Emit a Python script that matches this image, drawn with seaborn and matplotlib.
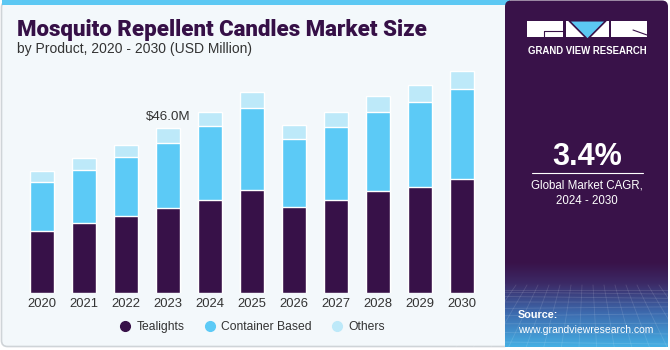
import numpy as np
import pandas as pd
import matplotlib
matplotlib.use("Agg")
import matplotlib.pyplot as plt
from matplotlib.patches import FancyBboxPatch, Rectangle, Polygon
from matplotlib.lines import Line2D
from matplotlib.colors import LinearSegmentedColormap
import seaborn as sns

# ---- data ----
years = ["2020", "2021", "2022", "2023", "2024", "2025", "2026", "2027", "2028", "2029", "2030"]
tealights = [17.4, 19.5, 21.6, 23.8, 26.0, 28.8, 24.1, 26.0, 28.5, 29.7, 31.8]
container = [13.7, 14.9, 16.4, 18.2, 20.7, 22.8, 19.0, 20.4, 22.1, 23.7, 25.2]
others = [3.1, 3.3, 3.3, 4.0, 3.9, 4.5, 3.7, 4.0, 4.4, 4.7, 5.0]
series_names = ["Tealights", "Container Based", "Others"]
annot_year = "2023"
annot_text = "$46.0M"

C_TEA = "#371148"
C_CON = "#5ccaf6"
C_OTH = "#bde9f9"
PANEL = "#391249"

sns.set_theme(style="white")
plt.rcParams["font.family"] = ["Liberation Sans", "DejaVu Sans"]

df = pd.DataFrame({"year": years, "Tealights": tealights,
                   "Container Based": container, "Others": others})
df["tc"] = df["Tealights"] + df["Container Based"]
df["total"] = df["tc"] + df["Others"]

W, H = 670, 350
fig = plt.figure(figsize=(W / 100, H / 100), dpi=100, facecolor="white")

# background axes in pixel coordinates
bg = fig.add_axes([0, 0, 1, 1], zorder=0)
bg.set_xlim(0, W)
bg.set_ylim(H, 0)
bg.axis("off")

bg.add_patch(FancyBboxPatch((1.5, 1.5), 508, 345, boxstyle="round,pad=0,rounding_size=6",
                            facecolor="#f3f8fb", edgecolor="#cfd4d8", lw=1.2))
bg.add_patch(Rectangle((1.5, 0), 508, 4.5, facecolor="#5cc8f3", edgecolor="none"))

# right panel
bg.add_patch(FancyBboxPatch((505, 0.5), 163, 346.5, boxstyle="round,pad=0,rounding_size=6",
                            facecolor=PANEL, edgecolor="none"))
cmap = LinearSegmentedColormap.from_list("g", [(0, PANEL), (0.25, "#3c2a66"), (0.6, "#3d6aae"), (1, "#45aee3")])
grad = np.linspace(0, 1, 100).reshape(-1, 1)
bg.imshow(grad, cmap=cmap, extent=[505, 668, 347, 262], aspect="auto", zorder=1)
# faint mesh
for i in range(9):
    yy = 290 + (i ** 1.5) * 2.3
    bg.plot([505, 668], [yy, yy + 2 * np.sin(i)], color="white", alpha=0.13, lw=0.6, zorder=2)
for xx in np.arange(505, 672, 11):
    bg.plot([xx, 587 + (xx - 587) * 1.6], [285, 347], color="white", alpha=0.12, lw=0.6, zorder=2)

# logo
bg.add_patch(Rectangle((527, 20.7), 36, 16, facecolor="white", edgecolor="none", zorder=3))
bg.plot([544, 563], [31, 31], color=PANEL, lw=0.8, zorder=4)
bg.plot([544, 544], [31, 36.7], color=PANEL, lw=0.8, zorder=4)
bg.add_patch(Polygon([(566, 20.7), (609, 20.7), (609, 36.7), (566, 36.7)], closed=True,
                     facecolor="white", edgecolor="none", zorder=3))
bg.add_patch(Polygon([(569, 20.7), (606, 20.7), (587.5, 39.3)], closed=True,
                     facecolor="#5cc8f3", edgecolor=PANEL, lw=1.2, zorder=4))
bg.add_patch(Rectangle((611, 20.7), 36, 16, facecolor="white", edgecolor="none", zorder=3))
bg.plot([633, 647], [30, 35], color=PANEL, lw=0.8, zorder=4)
bg.text(587, 50.5, "GRAND VIEW RESEARCH", color="white", fontsize=6.9, fontweight="bold",
        ha="center", va="center", zorder=5)

bg.text(587, 157, "3.4%", color="white", fontsize=22, fontweight="bold",
        ha="center", va="center", zorder=5)
bg.plot([532, 643], [173, 173], color="white", lw=0.8, zorder=5)
bg.text(587, 185.5, "Global Market CAGR,", color="white", fontsize=8.3, ha="center", va="center", zorder=5)
bg.text(587, 201.5, "2024 - 2030", color="white", fontsize=8.3, ha="center", va="center", zorder=5)
bg.text(518, 315, "Source:", color="white", fontsize=7.8, fontweight="bold", ha="left", va="center", zorder=5)
bg.text(518, 330, "www.grandviewresearch.com", color="white", fontsize=7.5, ha="left", va="center", zorder=5)

# titles
bg.text(17, 36, "Mosquito Repellent Candles Market Size", color="#361047", fontsize=16,
        fontweight="heavy", ha="left", va="baseline", family=["Roboto", "DejaVu Sans"])
bg.text(17, 53, "by Product, 2020 - 2030 (USD Million)", color="#333333", fontsize=10,
        ha="left", va="baseline")

# chart axes
x0, x1, ybase, ytop = 21, 483, 293.3, 60
ax = fig.add_axes([x0 / W, (H - ybase) / H, (x1 - x0) / W, (ybase - ytop) / H], zorder=2)
ax.patch.set_alpha(0)
bw = 0.57
sns.barplot(data=df, x="year", y="total", color=C_OTH, width=bw, ax=ax, saturation=1)
sns.barplot(data=df, x="year", y="tc", color=C_CON, width=bw, ax=ax, saturation=1)
sns.barplot(data=df, x="year", y="Tealights", color=C_TEA, width=bw, ax=ax, saturation=1)
ax.set_xlim(-0.5, len(years) - 0.5)
ax.set_ylim(0, 65.0)
sns.despine(ax=ax, left=True, bottom=True)
ax.set_yticks([])
ax.set_xlabel("")
ax.set_ylabel("")
ax.tick_params(axis="x", length=0, pad=3.5, labelsize=9.4, labelcolor="#333333")

i = years.index(annot_year)
ax.annotate(annot_text, (i, df["total"][i]), xytext=(0, 4), textcoords="offset points",
            ha="center", va="bottom", fontsize=9.6, color="#333333")

handles = [Line2D([], [], marker="o", ls="", color=c, markersize=7)
           for c in (C_TEA, C_CON, C_OTH)]
fig.legend(handles, series_names, loc="center", bbox_to_anchor=(252 / W, (H - 327) / H),
           ncol=3, frameon=False, fontsize=8.7, handlelength=1.0, handletextpad=0.45,
           columnspacing=1.6, labelcolor="#333333")

fig.savefig("out.png", dpi=100, facecolor="white")
